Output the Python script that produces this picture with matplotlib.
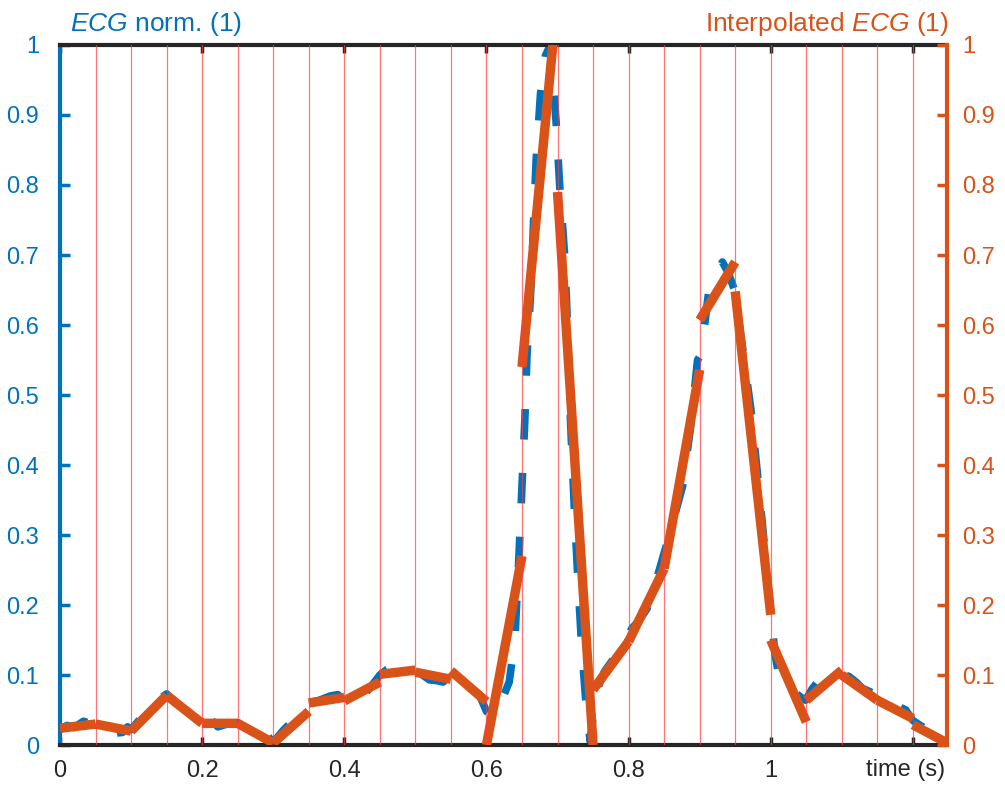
import numpy as np
import matplotlib.pyplot as plt

plt.rcParams['font.family'] = ['Liberation Sans', 'DejaVu Sans']
plt.rcParams['mathtext.fontset'] = 'custom'
plt.rcParams['mathtext.it'] = 'Liberation Sans:italic'
plt.rcParams['mathtext.rm'] = 'Liberation Sans'
plt.rcParams['lines.scale_dashes'] = False

BLUE = '#0072BD'
ORANGE = '#D95319'
DARK = '#262626'

# normalised ECG beat (time in s, amplitude 0..1)
t_ecg = [0.000, 0.010, 0.020, 0.033, 0.045, 0.060, 0.070, 0.078, 0.088, 0.095,
         0.100, 0.115, 0.131, 0.140, 0.150, 0.160, 0.175, 0.190, 0.200, 0.211,
         0.222, 0.235, 0.250, 0.262, 0.274, 0.285, 0.292, 0.300, 0.315, 0.330,
         0.345, 0.350, 0.365, 0.380, 0.391, 0.400, 0.410, 0.419, 0.435, 0.450,
         0.460, 0.471, 0.485, 0.500, 0.510, 0.520, 0.530, 0.539, 0.550, 0.565,
         0.580, 0.590, 0.600, 0.610, 0.620, 0.632, 0.640, 0.646, 0.650, 0.654,
         0.657, 0.663, 0.666, 0.670, 0.676, 0.683, 0.690, 0.698, 0.703, 0.710,
         0.714, 0.718, 0.724, 0.729, 0.734, 0.740, 0.746, 0.752, 0.758, 0.766,
         0.780, 0.795, 0.805, 0.815, 0.826, 0.836, 0.846, 0.860, 0.876, 0.888,
         0.897, 0.900, 0.907, 0.913, 0.922, 0.932, 0.940, 0.949, 0.960, 0.972,
         0.985, 1.000, 1.006, 1.012, 1.025, 1.040, 1.049, 1.058, 1.066, 1.080,
         1.095, 1.110, 1.120, 1.129, 1.140, 1.155, 1.169, 1.180, 1.190, 1.200,
         1.215, 1.230, 1.246]
ecg_norm = [0.022, 0.028, 0.025, 0.034, 0.030, 0.028, 0.026, 0.017, 0.018, 0.026,
            0.022, 0.040, 0.062, 0.066, 0.073, 0.064, 0.050, 0.038, 0.030, 0.038,
            0.026, 0.030, 0.032, 0.028, 0.026, 0.016, 0.013, 0.004, 0.022, 0.037,
            0.052, 0.060, 0.064, 0.070, 0.072, 0.062, 0.068, 0.064, 0.080, 0.100,
            0.108, 0.114, 0.108, 0.107, 0.100, 0.093, 0.092, 0.090, 0.102, 0.092,
            0.080, 0.072, 0.048, 0.040, 0.060, 0.090, 0.150, 0.276, 0.370, 0.464,
            0.556, 0.660, 0.740, 0.837, 0.930, 0.985, 1.000, 0.890, 0.800, 0.700,
            0.600, 0.470, 0.330, 0.230, 0.140, 0.060, 0.005, 0.060, 0.085, 0.105,
            0.125, 0.150, 0.167, 0.178, 0.195, 0.225, 0.260, 0.310, 0.370, 0.460,
            0.550, 0.555, 0.600, 0.650, 0.670, 0.690, 0.675, 0.650, 0.570, 0.480,
            0.350, 0.190, 0.130, 0.095, 0.085, 0.070, 0.064, 0.080, 0.090, 0.095,
            0.103, 0.098, 0.090, 0.081, 0.076, 0.068, 0.064, 0.055, 0.050, 0.035,
            0.025, 0.015, 0.008]

# piecewise linear interpolation, one segment per 50 ms window
seg_edges = [0.00, 0.05, 0.10, 0.15, 0.20, 0.25, 0.30, 0.35, 0.40, 0.45, 0.50,
             0.55, 0.60, 0.65, 0.70, 0.75, 0.80, 0.85, 0.90, 0.95, 1.00, 1.05,
             1.10, 1.15, 1.20, 1.248]
seg_start = [0.024, 0.030, 0.020, 0.071, 0.031, 0.031, 0.003, 0.060, 0.063, 0.101,
             0.104, 0.106, 0.000, 0.540, 0.790, 0.079, 0.148, 0.252, 0.607, 0.648,
             0.150, 0.064, 0.100, 0.064, 0.029]
seg_end = [0.030, 0.020, 0.071, 0.031, 0.031, 0.003, 0.048, 0.068, 0.090, 0.107,
           0.094, 0.062, 0.270, 1.070, 0.000, 0.148, 0.252, 0.536, 0.690, 0.186,
           0.033, 0.107, 0.064, 0.038, 0.003]

xticks = [0, 0.2, 0.4, 0.6, 0.8, 1.0, 1.2]
xticklabels = ['0', '0.2', '0.4', '0.6', '0.8', '1', '']
yticks = np.round(np.arange(0, 1.01, 0.1), 1)
yticklabels = ['0', '0.1', '0.2', '0.3', '0.4', '0.5', '0.6', '0.7', '0.8', '0.9', '1']

fig = plt.figure(figsize=(10.05, 7.92), dpi=100)
ax = fig.add_axes([0.0597, 0.0593, 0.8826, 0.8839])
ax2 = ax.twinx()

ax.plot(t_ecg, ecg_norm, color=BLUE, lw=5.5, dashes=(22, 24), dash_capstyle='butt')

# interpolated segments, each window drawn on its own
xs, ys = [], []
for i in range(len(seg_start)):
    xs += [seg_edges[i], seg_edges[i + 1], np.nan]
    ys += [seg_start[i], seg_end[i], np.nan]
ax2.plot(xs, ys, color=ORANGE, lw=6.8, solid_capstyle='butt', solid_joinstyle='miter')

# window borders
for x in seg_edges[1:-1]:
    ax2.axvline(x, color='#ff3b3b', lw=0.9, alpha=0.7, zorder=5)

for a in (ax, ax2):
    a.set_xlim(0, seg_edges[-1])
    a.set_ylim(0, 1)
    a.set_yticks(yticks)
    a.set_yticklabels(yticklabels)

ax.set_xticks(xticks)
ax.set_xticklabels(xticklabels)
ax.tick_params(axis='x', direction='in', length=6, width=2.5, color=DARK,
               labelsize=17, labelcolor=DARK, pad=11, top=True, bottom=True)
ax.tick_params(axis='y', direction='in', length=7, width=2.5, color=BLUE,
               labelsize=17, labelcolor=BLUE, pad=15)
ax2.tick_params(axis='y', direction='in', length=7, width=2.5, color=ORANGE,
                labelsize=17, labelcolor=ORANGE, pad=11)

for s in ('top', 'bottom'):
    ax.spines[s].set_color(DARK)
    ax.spines[s].set_linewidth(3)
    ax2.spines[s].set_visible(False)
ax.spines['right'].set_visible(False)
ax.spines['left'].set_color(BLUE)
ax.spines['left'].set_linewidth(3)
ax2.spines['left'].set_visible(False)
ax2.spines['right'].set_color(ORANGE)
ax2.spines['right'].set_linewidth(3)

ax.text(0.011, 1.01, r'$\mathit{ECG}$ norm. (1)', transform=ax.transAxes,
        color=BLUE, fontsize=19, ha='left', va='bottom')
ax2.text(1.002, 1.01, r'Interpolated $\mathit{ECG}$ (1)', transform=ax2.transAxes,
         color=ORANGE, fontsize=19, ha='right', va='bottom')
ax.text(0.998, -0.02, 'time (s)', transform=ax.transAxes,
        color=DARK, fontsize=17, ha='right', va='top')

fig.savefig('out.png', dpi=100)
